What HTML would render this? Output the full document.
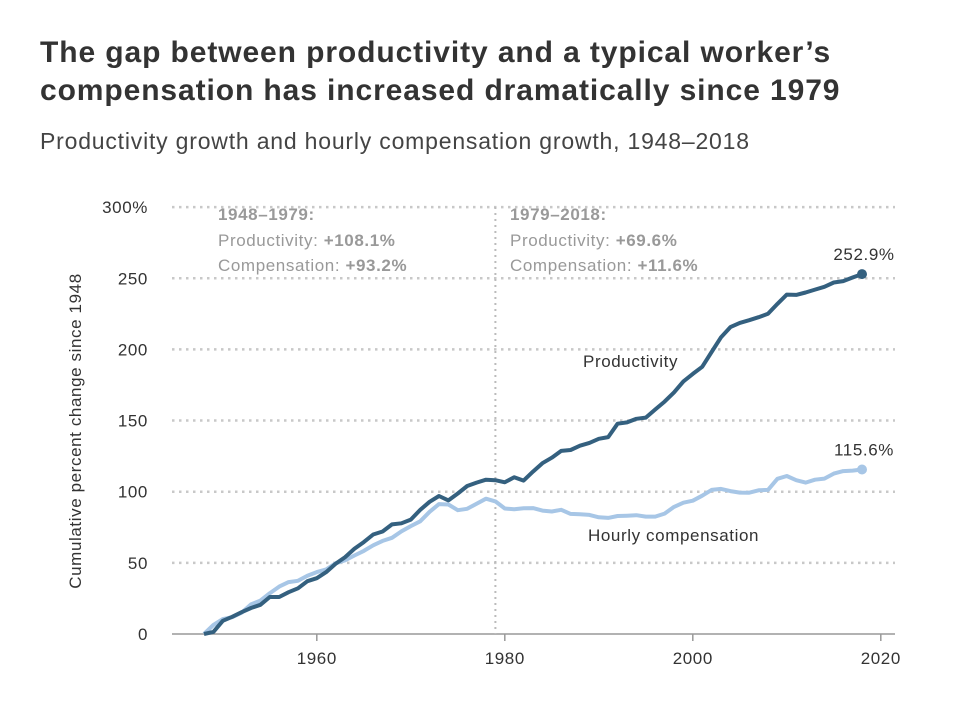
<!DOCTYPE html>
<html><head><meta charset="utf-8"><style>
body{margin:0;background:#fff;font-family:"Liberation Sans",sans-serif;}
#wrap{position:relative;width:962px;height:704px;overflow:hidden;}
h1{position:absolute;left:40px;top:34px;margin:0;font-size:30px;line-height:38px;letter-spacing:0.9px;font-weight:bold;color:#333;white-space:nowrap;}
h2{position:absolute;left:40px;top:128px;margin:0;font-size:23px;letter-spacing:0.8px;font-weight:normal;color:#444;white-space:nowrap;}
svg text{letter-spacing:0.6px;}
</style></head><body>
<div id="wrap">
<h1>The gap between productivity and a typical worker’s<br>compensation has increased dramatically since 1979</h1>
<h2>Productivity growth and hourly compensation growth, 1948–2018</h2>
<svg id="chart" width="962" height="704" style="position:absolute;left:0;top:0"></svg>
</div>
<script>
const years=[];for(let y=1948;y<=2018;y++)years.push(y);
const productivity=[0,1.5,9.3,12.1,15.3,18.3,20.5,26.0,26.0,29.4,32.1,37.1,39.2,43.5,49.3,54.0,59.9,64.6,69.9,72.0,77.0,77.8,80.4,87.2,92.9,97.0,93.9,98.7,104.0,106.4,108.4,108.1,106.6,110.2,107.8,114.1,120.0,123.9,128.7,129.3,132.3,134.3,137.2,138.4,147.8,148.7,151.2,152.1,157.8,163.3,169.8,177.5,182.8,187.8,198.2,208.5,215.7,218.6,220.5,222.6,225,232,238.5,238.3,240,242,244,247,248,250.5,252.9];
const compensation=[0,6.3,10.5,11.8,15.0,20.8,23.5,28.7,33.3,36.5,37.4,41.0,43.5,45.4,49.7,51.7,55.2,58.4,62.3,65.4,67.6,72.1,75.8,79.2,85.9,91.3,91.0,87.0,88.0,91.6,95.1,93.2,88.2,87.6,88.3,88.5,86.7,86.1,87.3,84.4,84.2,83.7,82.0,81.6,82.9,83.1,83.5,82.5,82.5,84.6,89.3,92.3,93.7,97.2,101.3,102.0,100.4,99.4,99.3,101.0,101.3,109.1,111.0,108.1,106.4,108.4,109.2,112.7,114.5,114.8,115.6];
const yTicks=[0,50,100,150,200,250,300];
const yTickLabels=["0","50","100","150","200","250","300%"];
const xTicks=[1960,1980,2000,2020];
const NS="http://www.w3.org/2000/svg";
const svg=document.getElementById('chart');
const xs=y=>204+(y-1948)*9.4;
const ys=v=>634-v*1.423;
function mk(tag,attrs,parent){const e=document.createElementNS(NS,tag);for(const k in attrs)e.setAttribute(k,attrs[k]);(parent||svg).appendChild(e);return e;}
yTicks.forEach((t,i)=>{
  if(t>0){const g=mk('line',{x1:172,x2:895,y1:ys(t),y2:ys(t),stroke:'#c8c8c8','stroke-width':2.5,'stroke-dasharray':'2.5 4.5'});
  
  }
  const l=mk('text',{x:148,y:ys(t)+6,'text-anchor':'end','font-size':17,fill:'#333'});l.textContent=yTickLabels[i];
  
  
});
const ax=mk('line',{x1:172,x2:895,y1:634,y2:634,stroke:'#999','stroke-width':1.5});


xTicks.forEach(t=>{
  mk('line',{x1:xs(t),x2:xs(t),y1:634,y2:641,stroke:'#999','stroke-width':1.5});
  const l=mk('text',{x:xs(t),y:664,'text-anchor':'middle','font-size':17,fill:'#333'});l.textContent=t;
  
  
});
const vl=mk('line',{x1:xs(1979),x2:xs(1979),y1:207,y2:634,stroke:'#bbb','stroke-width':2,'stroke-dasharray':'2 4'});


const yt=mk('text',{transform:'translate(81,431) rotate(-90)','text-anchor':'middle','font-size':17,fill:'#333'});yt.textContent='Cumulative percent change since 1948';


function series(vals,color,name){
  const d=vals.map((v,i)=>(i?'L':'M')+xs(years[i]).toFixed(1)+','+ys(v).toFixed(1)).join('');
  const p=mk('path',{d:d,fill:'none',stroke:color,'stroke-width':4,'stroke-linejoin':'round'});
  
  
  const n=vals.length-1;
  const c=mk('circle',{cx:xs(years[n]),cy:ys(vals[n]),r:5,fill:color});
  
  
  const t=mk('text',{x:xs(years[n])+2,y:ys(vals[n])-14,'text-anchor':'middle','font-size':17,fill:'#333'});t.textContent=vals[n].toFixed(1)+'%';
  
  
}
series(compensation,'#a7c6e6','compensation');
series(productivity,'#34607f','productivity');
function txt(x,y,s,attrs,name){const t=mk('text',Object.assign({x:x,y:y,'font-size':17,fill:'#333'},attrs||{}));t.innerHTML=s;

return t;}
txt(583,367,'Productivity',{},'productivity-label');
txt(588,541,'Hourly compensation',{'letter-spacing':'1px'},'compensation-label');
txt(218,220,'1948–1979:',{fill:'#999','font-weight':'bold'},'period1-heading');
txt(218,246,'Productivity: <tspan font-weight="bold">+108.1%</tspan>',{fill:'#999'},'period1-productivity');
txt(218,271,'Compensation: <tspan font-weight="bold">+93.2%</tspan>',{fill:'#999'},'period1-compensation');
txt(510,220,'1979–2018:',{fill:'#999','font-weight':'bold'},'period2-heading');
txt(510,246,'Productivity: <tspan font-weight="bold">+69.6%</tspan>',{fill:'#999'},'period2-productivity');
txt(510,271,'Compensation: <tspan font-weight="bold">+11.6%</tspan>',{fill:'#999'},'period2-compensation');
</script>
</body></html>
